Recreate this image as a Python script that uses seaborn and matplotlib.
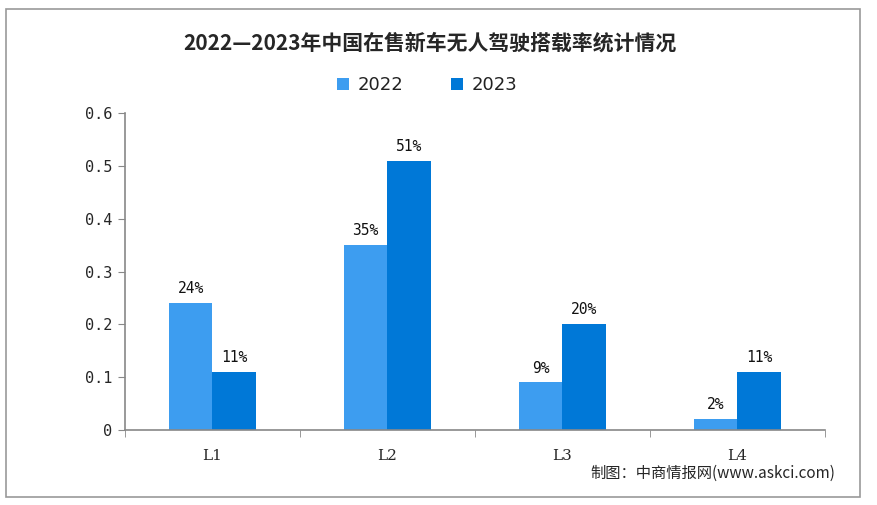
import pandas as pd
import matplotlib.pyplot as plt
import matplotlib.patches as patches
import seaborn as sns

levels = ['L1', 'L2', 'L3', 'L4']
rate_2022 = [0.24, 0.35, 0.09, 0.02]
rate_2023 = [0.11, 0.51, 0.20, 0.11]
years = ['2022', '2023']
y_ticks = [0, 0.1, 0.2, 0.3, 0.4, 0.5, 0.6]

df = pd.DataFrame({
    'level': levels * 2,
    'year': [years[0]] * 4 + [years[1]] * 4,
    'rate': rate_2022 + rate_2023,
})

sns.set_style('white')
plt.rcParams['font.family'] = ['Noto Sans CJK SC', 'DejaVu Sans']

fig = plt.figure(figsize=(8.77, 5.05), dpi=100)
ax = fig.add_axes([0.1425, 0.1485, 0.798, 0.6277])

palette = {'2022': '#3d9df0', '2023': '#0078d7'}
sns.barplot(data=df, x='level', y='rate', hue='year', palette=palette,
            width=0.5, gap=0, saturation=1, linewidth=0, ax=ax, legend=True)

# value labels
for cont, vals in zip(ax.containers, [rate_2022, rate_2023]):
    ax.bar_label(cont, labels=[f'{int(round(v * 100))}%' for v in vals],
                 padding=5, fontsize=10.5, family='DejaVu Sans Mono', color='#111111')

ax.set_xlim(-0.5, 3.5)
ax.set_ylim(0, 0.6)
ax.set_yticks(y_ticks)
ax.set_yticklabels(['0'] + [f'{t:.1f}' for t in y_ticks[1:]],
                   family='DejaVu Sans Mono', fontsize=11)
ax.set_xticks(range(4))
ax.set_xticklabels(levels, family='DejaVu Serif', fontsize=11)
ax.set_xticks([-0.5, 0.5, 1.5, 2.5, 3.5], minor=True)
ax.tick_params(axis='x', which='major', length=0, pad=14)
ax.tick_params(axis='x', which='minor', length=5, color='#888888', direction='out', bottom=True)
ax.tick_params(axis='y', length=5, color='#888888', direction='out', left=True, pad=4)
ax.set_xlabel('')
ax.set_ylabel('')
for side in ['top', 'right']:
    ax.spines[side].set_visible(False)
for side in ['left', 'bottom']:
    ax.spines[side].set_color('#888888')
    ax.spines[side].set_linewidth(1.2)

leg = ax.legend(loc='center', bbox_to_anchor=(0.432, 1.088), ncol=2, frameon=False,
                fontsize=13, handlelength=0.65, handleheight=0.65, columnspacing=2.6,
                handletextpad=0.5)
for t in leg.get_texts():
    t.set_family('DejaVu Sans')
    t.set_color('#222222')

fig.text(0.49, 0.915, '2022—2023年中国在售新车无人驾驶搭载率统计情况',
         ha='center', va='center', fontsize=15, fontweight='bold')
fig.text(0.952, 0.063, '制图：中商情报网(www.askci.com)', ha='right', va='center', fontsize=11)

# outer frame
fig.patches.append(patches.Rectangle((0.007, 0.016), 0.974, 0.966, transform=fig.transFigure,
                                     fill=False, edgecolor='#999999', linewidth=1.2))

fig.savefig('out.png', dpi=100)
